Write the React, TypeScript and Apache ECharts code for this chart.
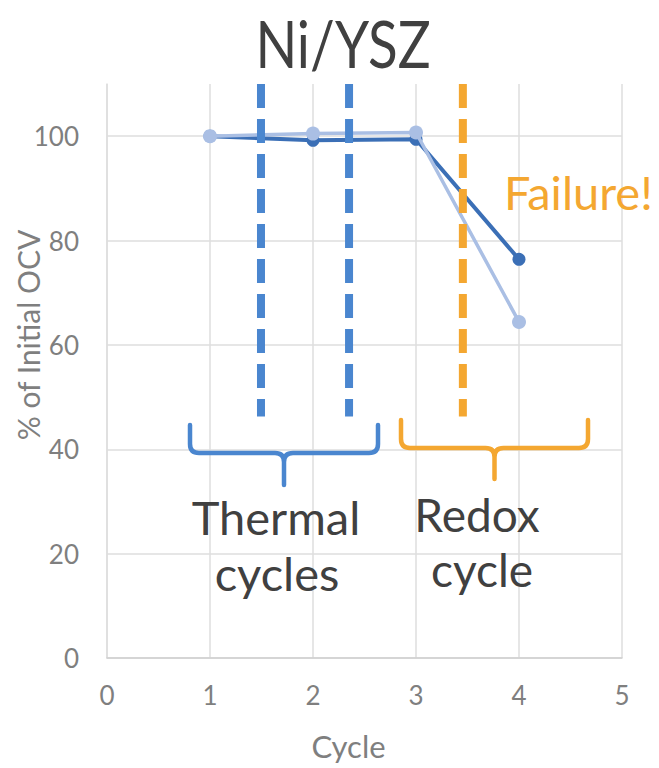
import React, { useEffect, useRef } from "react";
import * as echarts from "echarts";

// Cycle number on the x axis, OCV as % of the initial value on the y axis
const cycles = [1, 2, 3, 4];
const cellA = [100, 99.2, 99.4, 76.4];
const cellB = [100, 100.5, 100.7, 64.4];

// Event markers (cycle positions) and the y range they span
const thermalMarks = [1.495, 2.35];
const redoxMarks = [3.455];
const markTop = 110;
const markBottom = 46.3;

const yTicks = [0, 20, 40, 60, 80, 100];

const TEXT_DARK = "#404040";
const AXIS_GREY = "#7f7f7f";
const BLUE = "#4a86cf";
const ORANGE = "#f4a731";
const FONT = "Lato, 'Noto Sans', sans-serif";

// Grid layout in pixels
const G_LEFT = 107;
const G_RIGHT = 622;
const G_TOP = 84;
const G_BOTTOM = 658;

function bracePath(x1: number, x2: number, yTop: number, yMid: number, yTip: number, r: number) {
  const xc = (x1 + x2) / 2;
  return [
    `M ${x1} ${yTop}`,
    `L ${x1} ${yMid - r}`,
    `Q ${x1} ${yMid} ${x1 + r} ${yMid}`,
    `L ${xc - r} ${yMid}`,
    `Q ${xc} ${yMid} ${xc} ${yMid + r}`,
    `L ${xc} ${yTip}`,
    `M ${xc} ${yMid + r}`,
    `Q ${xc} ${yMid} ${xc + r} ${yMid}`,
    `L ${x2 - r} ${yMid}`,
    `Q ${x2} ${yMid} ${x2} ${yMid - r}`,
    `L ${x2} ${yTop}`,
  ].join(" ");
}

echarts.graphic.registerShape(
  "braceThermal",
  echarts.graphic.extendPath(bracePath(190, 378, 425, 453, 485, 9), {})
);
echarts.graphic.registerShape(
  "braceRedox",
  echarts.graphic.extendPath(bracePath(401, 588, 420, 448, 479, 9), {})
);

// Vertical dashed event marker drawn as a two-point line series
function eventLine(name: string, x: number, color: string) {
  return {
    type: "line",
    name,
    data: [
      [x, markTop],
      [x, markBottom],
    ],
    z: 5,
    symbol: "none",
    silent: true,
    lineStyle: { color, width: 8, type: [24, 11] },
  };
}

function annotation(text: string, x: number, y: number, fontSize: number, fill: string, align = "center") {
  return {
    type: "text",
    x,
    y,
    z: 10,
    style: { text, fontFamily: FONT, fontSize, fill, align, verticalAlign: "middle" },
  };
}

export default function App() {
  const ref = useRef<HTMLDivElement>(null);

  useEffect(() => {
    if (!ref.current) return;
    const chart = echarts.init(ref.current, undefined, { renderer: "svg" });

    chart.setOption({
      animation: false,
      backgroundColor: "#ffffff",
      grid: {
        left: G_LEFT,
        right: 659 - G_RIGHT,
        top: G_TOP,
        bottom: 768 - G_BOTTOM,
        containLabel: false,
        outerBoundsMode: "none",
      },
      xAxis: {
        type: "value",
        min: 0,
        max: 5,
        interval: 1,
        name: "Cycle",
        nameLocation: "middle",
        nameGap: 72,
        nameMoveOverlap: false,
        nameTextStyle: {
          fontFamily: FONT,
          fontSize: 31,
          color: AXIS_GREY,
          padding: [0, 32, 0, 0],
        },
        axisLine: { show: true, lineStyle: { color: "#cfcfcf", width: 1.5 } },
        axisTick: { show: false },
        axisLabel: { fontFamily: FONT, fontSize: 26, color: AXIS_GREY, margin: 24 },
        splitLine: { show: true, lineStyle: { color: "#dedede", width: 1.5 } },
      },
      yAxis: {
        type: "value",
        min: 0,
        max: 110,
        interval: 20,
        name: "% of Initial OCV",
        nameLocation: "middle",
        nameGap: 64,
        nameMoveOverlap: false,
        nameTextStyle: {
          fontFamily: FONT,
          fontSize: 30,
          color: AXIS_GREY,
          padding: [0, 0, 0, 72],
        },
        axisLine: { show: true, lineStyle: { color: "#dedede", width: 1.5 } },
        axisTick: { show: false },
        axisLabel: {
          fontFamily: FONT,
          fontSize: 26,
          color: AXIS_GREY,
          margin: 28,
          showMaxLabel: false,
          formatter: (v: number) => (yTicks.includes(v) ? String(v) : ""),
        },
        splitLine: {
          show: true,
          showMaxLine: false,
          lineStyle: { color: "#dedede", width: 1.5 },
        },
      },
      series: [
        {
          type: "line",
          name: "Cell A",
          data: cycles.map((c, i) => [c, cellA[i]]),
          z: 3,
          symbol: "circle",
          symbolSize: 13,
          lineStyle: { color: "#3b6fb6", width: 4 },
          itemStyle: { color: "#3b6fb6" },
        },
        {
          type: "line",
          name: "Cell B",
          data: cycles.map((c, i) => [c, cellB[i]]),
          z: 4,
          symbol: "circle",
          symbolSize: 14,
          lineStyle: { color: "#aabfe4", width: 3.5 },
          itemStyle: { color: "#aabfe4" },
        },
        ...thermalMarks.map((x, i) => eventLine(`Thermal ${i + 1}`, x, BLUE)),
        ...redoxMarks.map((x, i) => eventLine(`Redox ${i + 1}`, x, ORANGE)),
      ],
      graphic: [
        {
          type: "text",
          x: 343,
          y: 42,
          scaleX: 0.83,
          z: 10,
          style: {
            text: "Ni/YSZ",
            fontFamily: FONT,
            fontSize: 66,
            fill: TEXT_DARK,
            align: "center",
            verticalAlign: "middle",
          },
        },
        {
          type: "braceThermal",
          x: 0,
          y: 0,
          z: 10,
          style: { fill: "none", stroke: BLUE, lineWidth: 4.5, lineCap: "round", lineJoin: "round" },
        },
        {
          type: "braceRedox",
          x: 0,
          y: 0,
          z: 10,
          style: { fill: "none", stroke: ORANGE, lineWidth: 4.5, lineCap: "round", lineJoin: "round" },
        },
        annotation("Thermal", 276, 517, 47, TEXT_DARK),
        annotation("cycles", 277, 573, 47, TEXT_DARK),
        annotation("Redox", 477, 514, 46, TEXT_DARK),
        annotation("cycle", 482, 569, 46, TEXT_DARK),
        annotation("Failure!", 504, 192, 47, ORANGE, "left"),
      ],
    });

    return () => chart.dispose();
  }, []);

  return (
    <div
      ref={ref}
      style={{ position: "fixed", left: 0, top: 0, width: 659, height: 768 }}
    />
  );
}
